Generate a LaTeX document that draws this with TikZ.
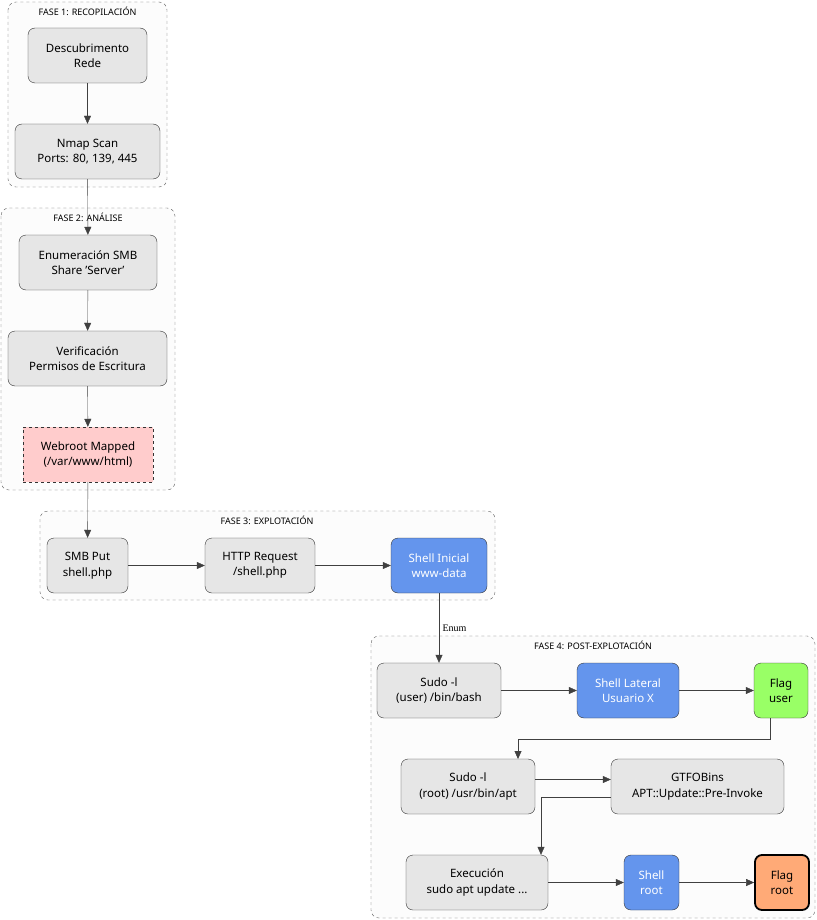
\documentclass[tikz,border=0pt]{standalone}
\usepackage{fontspec}
\setmainfont{Noto Sans}
\newfontfamily\serifenum{Liberation Serif}
\usetikzlibrary{arrows.meta,positioning}
\definecolor{boxgray}{HTML}{E6E6E6}
\definecolor{shellblue}{HTML}{6495ED}
\definecolor{flaggreen}{HTML}{99FF66}
\definecolor{flagorange}{HTML}{FFAA77}
\definecolor{webpink}{HTML}{FFCCCC}
\tikzset{
  stepbox/.style={draw=black!80, rounded corners=7pt, fill=boxgray, align=center, font=\fontsize{11.5}{15.5}\selectfont, minimum height=55pt, inner sep=2pt},
  shellbox/.style={stepbox, fill=shellblue, text=white},
  phase/.style={draw=black!65, dashed, rounded corners=8pt, fill=black!1},
  phaselabel/.style={font=\fontsize{9}{10}\selectfont, anchor=north},
  link/.style={draw=black!75, -{Triangle[length=8pt,width=7pt]}}
}
\begin{document}
\begin{tikzpicture}[x=1pt,y=-1pt]
\useasboundingbox (0,0) rectangle (816,920);

% Phase frames
\draw[phase] (8,2) rectangle (167,187);
\node[phaselabel] at (87.5,3) {FASE 1: RECOPILACIÓN};
\draw[phase] (1,208) rectangle (175,490);
\node[phaselabel] at (88,209) {FASE 2: ANÁLISE};
\draw[phase] (40,511) rectangle (495,600);
\node[phaselabel] at (267,512) {FASE 3: EXPLOTACIÓN};
\draw[phase] (371,636) rectangle (815,918);
\node[phaselabel] at (593,637) {FASE 4: POST-EXPLOTACIÓN};

% Phase 1
\node[stepbox, minimum width=119pt] (desc) at (87.5,55.5) {Descubrimento\\Rede};
\node[stepbox, minimum width=145pt] (nmap) at (87.5,151.5) {Nmap Scan\\Ports: 80, 139, 445};

% Phase 2
\node[stepbox, minimum width=138pt] (smbenum) at (88,262.5) {Enumeración SMB\\Share 'Server'};
\node[stepbox, minimum width=159pt] (verif) at (87.5,358.5) {Verificación\\Permisos de Escritura};
\node[stepbox, minimum width=130pt, rounded corners=0pt, dashed, fill=webpink] (webroot) at (88,454.5) {Webroot Mapped\\(/var/www/html)};

% Phase 3
\node[stepbox, minimum width=81pt] (smbput) at (87.5,565.5) {SMB Put\\shell.php};
\node[stepbox, minimum width=110pt] (http) at (260,565.5) {HTTP Request\\/shell.php};
\node[shellbox, minimum width=96pt] (shellini) at (439,565.5) {Shell Inicial\\www-data};

% Phase 4
\node[stepbox, minimum width=124pt] (sudouser) at (439,690.5) {Sudo -l\\(user) /bin/bash};
\node[shellbox, minimum width=102pt] (shelllat) at (628,690.5) {Shell Lateral\\Usuario X};
\node[stepbox, minimum width=54pt, fill=flaggreen] (flaguser) at (781,690.5) {Flag\\user};
\node[stepbox, minimum width=134pt] (sudoroot) at (468,786.5) {Sudo -l\\(root) /usr/bin/apt};
\node[stepbox, minimum width=173pt] (gtfo) at (697.5,786.5) {GTFOBins\\APT::Update::Pre-Invoke};
\node[stepbox, minimum width=142pt] (exec) at (477,882.5) {Execución\\sudo apt update ...};
\node[shellbox, minimum width=55pt] (shellroot) at (651.5,882.5) {Shell\\root};
\node[stepbox, minimum width=54pt, fill=flagorange, line width=1.8pt, draw=black] (flagroot) at (782,882.5) {Flag\\root};

% Connectors
\draw[link] (desc) -- (nmap);
\draw[link] (nmap) -- (smbenum);
\draw[link] (smbenum) -- (verif);
\draw[link] (verif) -- (webroot);
\draw[link] (webroot) -- (smbput);
\draw[link] (smbput) -- (http);
\draw[link] (http) -- (shellini);
\draw[link] (shellini) -- node[right, font=\serifenum\fontsize{10}{11}\selectfont] {Enum} (sudouser);
\draw[link] (sudouser) -- (shelllat);
\draw[link] (shelllat) -- (flaguser);
\draw[link] ([xshift=-11pt]flaguser.south) |- (518,739) -- (518,759);
\draw[link] ([yshift=7pt]sudoroot.east) -- ([yshift=7pt]sudoroot.east -| gtfo.west);
\draw[link] ([yshift=-10.5pt]gtfo.west) -| ([xshift=64pt]exec.north);
\draw[link] (exec) -- (shellroot);
\draw[link] (shellroot) -- (flagroot);
\end{tikzpicture}
\end{document}
